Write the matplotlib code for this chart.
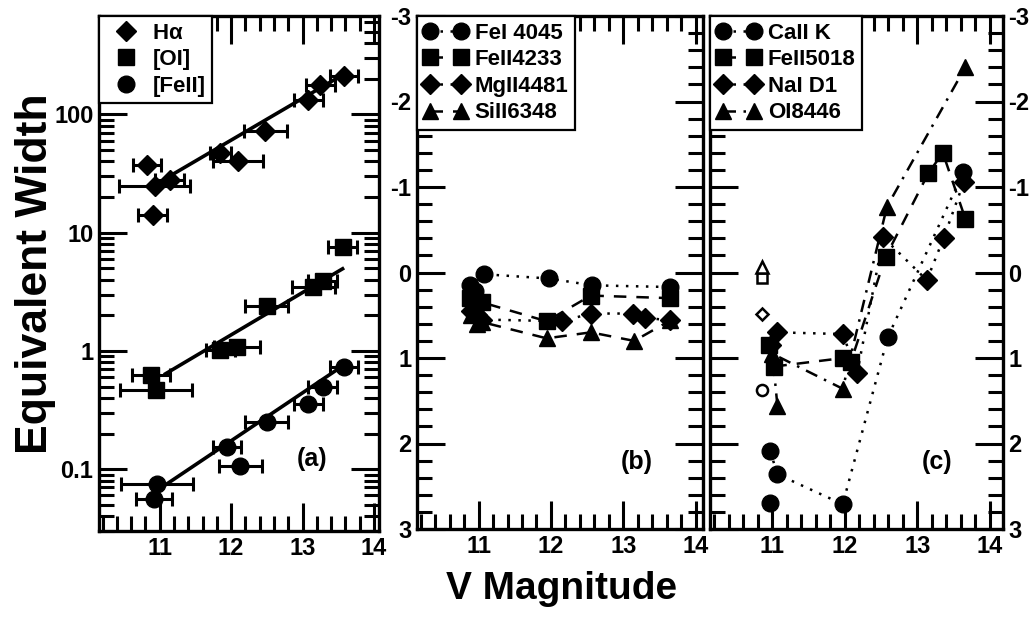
import numpy as np
import matplotlib.pyplot as plt
from matplotlib.ticker import MultipleLocator, FixedLocator, LogLocator, NullFormatter, FuncFormatter

plt.rcParams['font.family'] = ['Liberation Sans', 'DejaVu Sans']
plt.rcParams['font.weight'] = 'bold'
plt.rcParams['mathtext.default'] = 'regular'

# ---- (a) equivalent widths vs V ----
ha_v = [10.82, 10.93, 11.14, 10.90, 11.85, 12.10, 12.48, 13.08, 13.25, 13.58]
ha_w = [37, 25, 28, 14, 47, 40, 73, 132, 177, 210]
ha_err = [0.2, 0.5, 0.2, 0.2, 0.15, 0.35, 0.3, 0.2, 0.2, 0.2]

oi_v = [10.88, 10.95, 11.85, 12.08, 12.50, 13.15, 13.28, 13.56]
oi_w = [0.62, 0.47, 1.02, 1.08, 2.4, 3.5, 3.9, 7.6]
oi_err = [0.27, 0.5, 0.2, 0.32, 0.3, 0.3, 0.2, 0.2]

fe2_v = [10.96, 10.92, 11.94, 12.13, 12.50, 13.08, 13.28, 13.58]
fe2_w = [0.075, 0.056, 0.153, 0.106, 0.25, 0.355, 0.5, 0.73]
fe2_err = [0.5, 0.25, 0.2, 0.3, 0.3, 0.2, 0.2, 0.2]

# straight-line fits (end points)
ha_fit_v, ha_fit_w = [11.2, 13.6], [31.6, 223]
oi_fit_v, oi_fit_w = [11.08, 13.56], [0.64, 4.95]
fe2_fit_v, fe2_fit_w = [11.1, 13.56], [0.075, 0.746]

# ---- (b) ----
fe1_4045_v = [10.88, 10.95, 11.07, 11.97, 12.57, 13.65]
fe1_4045_y = [0.15, 0.22, 0.02, 0.07, 0.15, 0.17]
fe2_4233_v = [10.88, 10.95, 11.05, 11.94, 12.55, 13.65]
fe2_4233_y = [0.30, 0.38, 0.35, 0.57, 0.27, 0.30]
mg2_4481_v = [10.90, 10.98, 11.05, 12.15, 12.55, 13.13, 13.30, 13.65]
mg2_4481_y = [0.45, 0.50, 0.55, 0.57, 0.48, 0.48, 0.53, 0.56]
si2_6348_v = [10.90, 10.98, 11.05, 11.94, 12.55, 13.15, 13.65]
si2_6348_y = [0.50, 0.60, 0.58, 0.77, 0.70, 0.80, 0.56]

# ---- (c) ----
ca2k_v = [10.97, 11.07, 11.97, 12.59, 13.63]
ca2k_y = [2.09, 2.36, 2.71, 0.76, -1.17]
ca2k_extra_v, ca2k_extra_y = [10.97], [2.70]
fe2_5018_v = [10.95, 11.02, 11.98, 12.08, 12.56, 13.15, 13.35, 13.66]
fe2_5018_y = [0.85, 1.10, 1.00, 1.05, -0.18, -1.16, -1.40, -0.63]
nad1_v = [10.98, 11.07, 11.97, 12.17, 12.53, 13.13, 13.36, 13.64]
nad1_y = [0.85, 0.70, 0.72, 1.17, -0.41, 0.09, -0.40, -1.06]
oi8446_v = [11.07, 11.00, 11.97, 12.58, 13.66]
oi8446_y = [1.56, 0.95, 1.36, -0.77, -2.40]
# open symbols
open_v = 10.86
open_ca2k, open_fe2, open_nad1, open_oi = 1.38, 0.07, 0.48, -0.06

W, H = 1034, 620
fig = plt.figure(figsize=(W / 100, H / 100), dpi=100)


def rect(l, t, r, b):
    return [l / W, 1 - b / H, (r - l) / W, (b - t) / H]


axa = fig.add_axes(rect(99, 16, 379, 531))
axb = fig.add_axes(rect(417, 16, 703, 529))
axc = fig.add_axes(rect(710, 16, 1003, 529))

tick_fs = 17
for ax in (axa, axb, axc):
    for s in ax.spines.values():
        s.set_linewidth(2.4)
    ax.tick_params(which='both', direction='in', top=True, right=True, width=2.2,
                   labelsize=tick_fs, pad=4)
    ax.tick_params(which='major', length=20)
    ax.tick_params(which='minor', length=11)
    ax.xaxis.set_major_locator(FixedLocator([11, 12, 13, 14]))
    ax.xaxis.set_minor_locator(MultipleLocator(0.2))

ms = 12
eb = dict(fmt='none', ecolor='k', elinewidth=2.2, capsize=5, capthick=2.2)

# panel (a)
axa.set_yscale('log')
axa.set_xlim(10.15, 14.07)
axa.set_ylim(0.03, 680)
axa.errorbar(ha_v, ha_w, xerr=ha_err, **eb)
axa.errorbar(oi_v, oi_w, xerr=oi_err, **eb)
axa.errorbar(fe2_v, fe2_w, xerr=fe2_err, **eb)
axa.plot(ha_v, ha_w, 'kD', ms=ms - 2, ls='none', label=r'H$\alpha$')
axa.plot(oi_v, oi_w, 'ks', ms=ms - 1, ls='none', label='[OI]')
axa.plot(fe2_v, fe2_w, 'ko', ms=ms, ls='none', label='[FeII]')
for fv, fw in ((ha_fit_v, ha_fit_w), (oi_fit_v, oi_fit_w), (fe2_fit_v, fe2_fit_w)):
    axa.plot(fv, fw, 'k-', lw=2.6)
axa.yaxis.set_major_locator(LogLocator(base=10, numticks=10))
axa.yaxis.set_minor_locator(LogLocator(base=10, subs=np.arange(2, 10), numticks=10))
axa.yaxis.set_minor_formatter(NullFormatter())
axa.yaxis.set_major_formatter(FuncFormatter(lambda v, p: '%g' % v))
axa.set_ylabel('Equivalent Width', fontsize=32, fontweight='bold')
axa.yaxis.set_label_coords(-0.155, 0.5)
axa.text(0.76, 0.14, '(a)', transform=axa.transAxes, fontsize=18, ha='center', va='center')

# panel (b)
dot = (0, (1, 3))
dash = (0, (5, 4))
dashdot = (0, (5, 3, 1, 3))
lw = 1.8
axb.plot(fe1_4045_v, fe1_4045_y, color='k', ls=dot, lw=lw, marker='o', ms=ms, label='FeI 4045')
axb.plot(fe2_4233_v, fe2_4233_y, color='k', ls=dash, lw=lw, marker='s', ms=ms - 1, label='FeII4233')
axb.plot(mg2_4481_v, mg2_4481_y, color='k', ls=dot, lw=lw, marker='D', ms=ms - 2, label='MgII4481')
axb.plot(si2_6348_v, si2_6348_y, color='k', ls=dash, lw=lw, marker='^', ms=ms, label='SiII6348')
axb.set_xlim(10.15, 14.1)
axb.set_ylim(3, -3)
axb.yaxis.set_major_locator(MultipleLocator(1))
axb.yaxis.set_minor_locator(MultipleLocator(0.2))
axb.yaxis.set_major_formatter(FuncFormatter(lambda v, p: '%d' % round(v)))
axb.text(0.77, 0.13, '(b)', transform=axb.transAxes, fontsize=18, ha='center', va='center')

# panel (c)
axc.plot(ca2k_v, ca2k_y, color='k', ls=dot, lw=lw, marker='o', ms=ms, label='CaII K')
axc.plot(ca2k_extra_v, ca2k_extra_y, 'ko', ms=ms)
axc.plot(fe2_5018_v, fe2_5018_y, color='k', ls=dash, lw=lw, marker='s', ms=ms - 1, label='FeII5018')
axc.plot(nad1_v, nad1_y, color='k', ls=dot, lw=lw, marker='D', ms=ms - 2, label='NaI D1')
axc.plot(oi8446_v, oi8446_y, color='k', ls=dashdot, lw=lw, marker='^', ms=ms, label='OI8446')
op = dict(color='k', mfc='white', mew=1.8, ls='none')
axc.plot([open_v], [open_ca2k], marker='o', ms=8, **op)
axc.plot([open_v], [open_fe2], marker='s', ms=7, **op)
axc.plot([open_v], [open_nad1], marker='D', ms=6, **op)
axc.plot([open_v], [open_oi], marker='^', ms=8, **op)
axc.set_xlim(10.14, 14.18)
axc.set_ylim(3, -3)
axc.yaxis.set_major_locator(MultipleLocator(1))
axc.yaxis.set_minor_locator(MultipleLocator(0.2))
axc.yaxis.set_major_formatter(FuncFormatter(lambda v, p: '%d' % round(v)))
axc.tick_params(axis='y', labelleft=False, labelright=True)
axc.text(0.775, 0.13, '(c)', transform=axc.transAxes, fontsize=18, ha='center', va='center')

leg_kw = dict(loc='upper left', borderaxespad=0, fontsize=16, fancybox=False,
              edgecolor='k', framealpha=1, handletextpad=0.3, labelspacing=0.25,
              borderpad=0.3)
la = axa.legend(handlelength=1.8, numpoints=1, **leg_kw)
lb = axb.legend(handlelength=2.0, numpoints=2, **leg_kw)
lc = axc.legend(handlelength=2.0, numpoints=2, **leg_kw)
for lg in (la, lb, lc):
    lg.get_frame().set_linewidth(1.6)

fig.text(562 / W, 1 - 589 / H, 'V Magnitude', fontsize=28, ha='center', va='center')

fig.savefig('out.png', dpi=100)
